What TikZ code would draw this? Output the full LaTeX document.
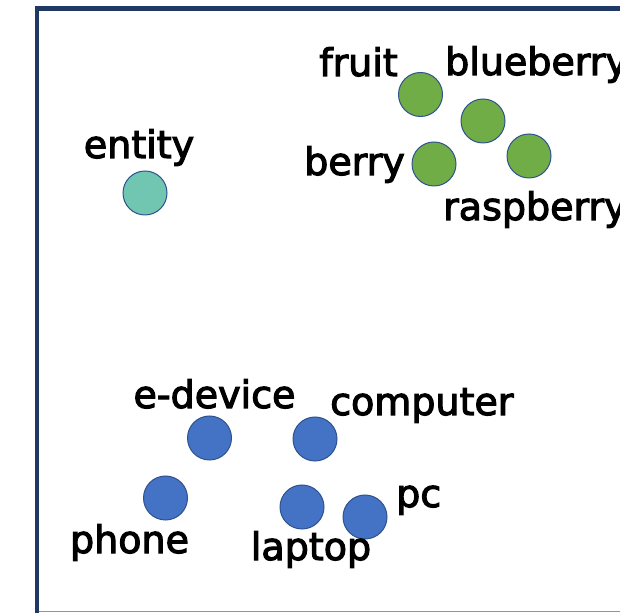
\documentclass[tikz,border=0pt]{standalone}
\usepackage{fontspec}
\setmainfont{DejaVu Sans}
\newfontfamily\labfont{DejaVu Sans}[FakeBold=3]
\definecolor{navy}{HTML}{203864}
\definecolor{edge}{HTML}{2F528F}
\definecolor{lightedge}{HTML}{8497B0}
\definecolor{teal}{HTML}{70C6B0}
\definecolor{grn}{HTML}{70AD47}
\definecolor{blu}{HTML}{4472C4}
\tikzset{
  dot/.style={circle, draw=edge, line width=1pt, minimum size=44pt, inner sep=0pt},
  lab/.style={inner sep=0pt, font=\labfont\fontsize{38}{40}\selectfont, text=black}
}
\begin{document}
\begin{tikzpicture}[x=1pt,y=1pt]
\useasboundingbox (0,0) rectangle (620,615);
\clip (0,0) rectangle (620,615);
% frame
\draw[lightedge, line width=1.5pt] (37,3.5) -- (640,3.5);
\draw[navy, line width=4.5pt] (37,2) -- (37,606.5) -- (640,606.5);
% entity
\node[dot, fill=teal] (entity) at (145,422) {};
\node[lab, anchor=base] (lentity) at (139,457) {entity};
% fruits
\node[dot, fill=grn] (fruit) at (420.5,520.5) {};
\node[dot, fill=grn] (blueberry) at (483,494) {};
\node[dot, fill=grn] (berry) at (434,451) {};
\node[dot, fill=grn] (raspberry) at (529,459) {};
\node[lab, anchor=base east] (lfruit) at (398,539) {fruit};
\node[lab, anchor=base west] (lblueberry) at (445,540) {blueberry};
\node[lab, anchor=base east] (lberry) at (405,440) {berry};
\node[lab, anchor=base west] (lraspberry) at (443,395) {raspberry};
% devices
\node[dot, fill=blu] (edevice) at (209.5,177) {};
\node[dot, fill=blu] (computer) at (315,176) {};
\node[dot, fill=blu] (phone) at (165.5,117) {};
\node[dot, fill=blu] (laptop) at (302,108) {};
\node[dot, fill=blu] (pc) at (365,98) {};
\node[lab, anchor=base] (ledevice) at (214.5,207) {e-device};
\node[lab, anchor=base west] (lcomputer) at (330,200) {computer};
\node[lab, anchor=base west] (lpc) at (396,108) {pc};
\node[lab, anchor=base] (lphone) at (129.5,62) {phone};
\node[lab, anchor=base] (llaptop) at (311,55) {laptop};
\end{tikzpicture}
\end{document}
